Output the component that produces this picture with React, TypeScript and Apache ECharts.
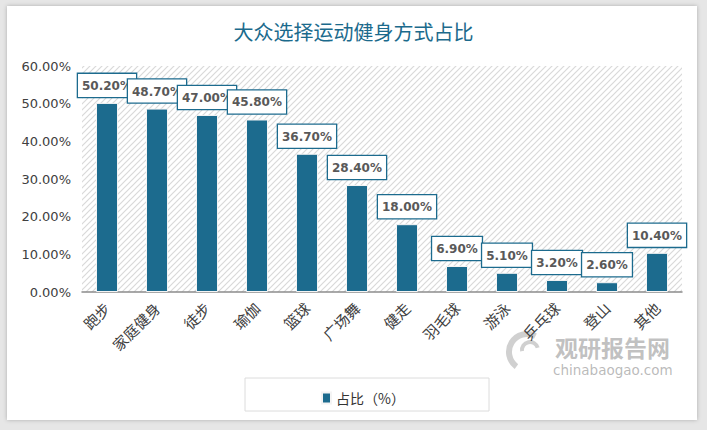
import React, { useEffect, useRef } from "react";
import * as echarts from "echarts";

const categories = ["跑步", "家庭健身", "徒步", "瑜伽", "篮球", "广场舞", "健走", "羽毛球", "游泳", "乒乓球", "登山", "其他"];
const shareValues = [50.2, 48.7, 47.0, 45.8, 36.7, 28.4, 18.0, 6.9, 5.1, 3.2, 2.6, 10.4];
const seriesName = "占比（%）";
const titleText = "大众选择运动健身方式占比";

function makeHatch(): string {
  const c = document.createElement("canvas");
  c.width = 6;
  c.height = 6;
  const ctx = c.getContext("2d")!;
  ctx.fillStyle = "#ffffff";
  ctx.fillRect(0, 0, 6, 6);
  ctx.strokeStyle = "#d9d9d9";
  ctx.lineWidth = 1.2;
  ctx.beginPath();
  ctx.moveTo(0, 6);
  ctx.lineTo(6, 0);
  ctx.moveTo(-3, 3);
  ctx.lineTo(3, -3);
  ctx.moveTo(3, 9);
  ctx.lineTo(9, 3);
  ctx.stroke();
  return c.toDataURL();
}

export default function App() {
  const ref = useRef<HTMLDivElement>(null);
  useEffect(() => {
    if (!ref.current) return;
    const chart = echarts.init(ref.current, undefined, { renderer: "svg" });
    const hatch = makeHatch();
    const numFont = "'DejaVu Sans', Verdana, sans-serif";
    const cjkFont = "'Noto Sans CJK SC', sans-serif";
    chart.setOption({
      animation: false,
      title: {
        text: titleText,
        left: "center",
        top: 16,
        textStyle: { fontFamily: cjkFont, fontSize: 20, fontWeight: "normal", color: "#1b6a8c" },
      },
      grid: {
        left: 82,
        right: 25,
        top: 66,
        bottom: 138,
        show: true,
        borderWidth: 0,
        backgroundColor: { image: hatch, repeat: "repeat", imageWidth: 6, imageHeight: 6 },
      },
      legend: {
        data: [seriesName],
        left: 316,
        top: 386,
        itemWidth: 9,
        itemHeight: 11,
        itemGap: 8,
        icon: "rect",
        textStyle: { fontFamily: cjkFont, fontSize: 14, color: "#333" },
      },
      xAxis: {
        type: "category",
        data: categories,
        axisLine: { lineStyle: { color: "#8c8c8c", width: 1.5 } },
        axisTick: { show: false },
        axisLabel: {
          rotate: 45,
          interval: 0,
          margin: 13,
          fontFamily: cjkFont,
          fontSize: 15,
          color: "#404040",
        },
      },
      yAxis: {
        type: "value",
        min: 0,
        max: 60,
        interval: 10,
        axisLine: { show: false },
        axisTick: { show: false },
        splitLine: { show: false },
        axisLabel: {
          margin: 11,
          fontFamily: numFont,
          fontSize: 13,
          color: "#404040",
          formatter: (v: number) => v.toFixed(2) + "%",
        },
      },
      series: [
        {
          name: seriesName,
          type: "bar",
          data: shareValues,
          barWidth: 22,
          itemStyle: { color: "#1c6b8e", borderColor: "#f4f4f4", borderWidth: 1 },
          label: {
            show: true,
            position: "top",
            distance: 6,
            formatter: (p: any) => Number(p.value).toFixed(2) + "%",
            fontFamily: numFont,
            fontSize: 12,
            fontWeight: "bold",
            color: "#595959",
            backgroundColor: "#ffffff",
            borderColor: "#1c6b8e",
            borderWidth: 1.3,
            padding: [6, 4, 5, 4],
          },
        },
      ],
      graphic: [
        {
          type: "rect",
          z: -1,
          shape: { x: 245, y: 378, width: 244, height: 33 },
          style: { fill: "#ffffff", stroke: "#dcdcdc", lineWidth: 1 },
        },
        {
          type: "group",
          z: 100,
          children: [
            {
              type: "arc",
              shape: { cx: 527, cy: 352, r: 18, startAngle: 2.2, endAngle: 5.2 },
              style: { stroke: "rgba(150,150,150,0.45)", lineWidth: 6, fill: "none" },
            },
            {
              type: "arc",
              shape: { cx: 530, cy: 350, r: 8, startAngle: 3.0, endAngle: 6.0 },
              style: { stroke: "rgba(150,150,150,0.45)", lineWidth: 4, fill: "none" },
            },
            {
              type: "text",
              x: 555,
              y: 335,
              style: {
                text: "观研报告网",
                fontFamily: cjkFont,
                fontSize: 23,
                fontWeight: "bold",
                fill: "rgba(140,140,140,0.55)",
              },
            },
            {
              type: "text",
              x: 553,
              y: 363,
              style: {
                text: "chinabaogao.com",
                fontFamily: numFont,
                fontSize: 13.5,
                fill: "rgba(140,140,140,0.6)",
              },
            },
          ],
        },
      ],
    });
    return () => chart.dispose();
  }, []);

  return (
    <div style={{ position: "fixed", left: 0, top: 0, width: 707, height: 430, background: "#e6e6e6" }}>
      <div
        style={{
          position: "absolute",
          left: 7,
          top: 6,
          width: 690,
          height: 414,
          background: "#ffffff",
          boxShadow: "0 0 4px rgba(0,0,0,0.25)",
        }}
      />
      <div ref={ref} style={{ position: "absolute", left: 0, top: 0, width: 707, height: 430 }} />
    </div>
  );
}
